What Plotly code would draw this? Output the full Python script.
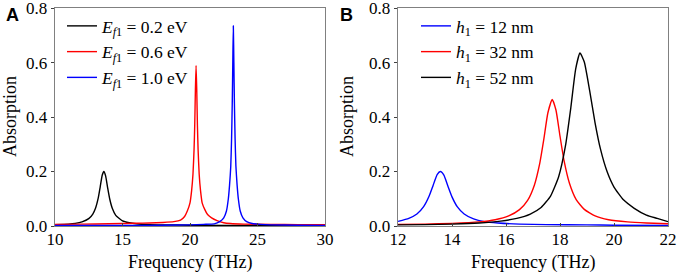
import plotly.graph_objects as go

# ---------------- data ----------------
# Panel A: absorption vs frequency for three Fermi levels
fa_black = [10, 11, 11.5, 12, 12.5, 12.8, 13.0, 13.2, 13.35, 13.5, 13.62, 13.75, 13.9, 14.05,
            14.25, 14.5, 15, 15.5, 16, 17, 18, 20, 25, 30]
a_black = [0.005, 0.007, 0.0095, 0.015, 0.027, 0.044, 0.065, 0.102, 0.144, 0.187, 0.2, 0.184,
           0.14, 0.1, 0.064, 0.039, 0.019, 0.012, 0.008, 0.005, 0.004, 0.003, 0.002, 0.002]

fa_red = [10, 12, 14, 16, 17, 18, 18.8, 19.3, 19.6, 19.8, 20.0, 20.12, 20.22, 20.3, 20.35, 20.4,
          20.45, 20.5, 20.55, 20.6, 20.68, 20.78, 20.9, 21.1, 21.3, 21.6, 22.0, 22.5, 23, 24, 26,
          28, 30]
a_red = [0.006, 0.007, 0.008, 0.01, 0.011, 0.013, 0.016, 0.022, 0.035, 0.055, 0.085, 0.13, 0.19,
         0.28, 0.37, 0.5, 0.59, 0.5, 0.37, 0.28, 0.19, 0.13, 0.085, 0.06, 0.042, 0.03, 0.02,
         0.012, 0.009, 0.007, 0.006, 0.005, 0.005]

fa_blue = [10, 15, 18, 20, 21, 21.8, 22.2, 22.5, 22.7, 22.84, 22.93, 23.02, 23.08, 23.13, 23.17,
           23.21, 23.25, 23.29, 23.34, 23.40, 23.49, 23.58, 23.72, 23.92, 24.2, 24.6, 25.2, 26,
           28, 30]
a_blue = [0.002, 0.002, 0.003, 0.004, 0.006, 0.008, 0.016, 0.03, 0.055, 0.1, 0.15, 0.22, 0.32,
          0.45, 0.6, 0.735, 0.6, 0.45, 0.32, 0.22, 0.15, 0.1, 0.055, 0.03, 0.016, 0.009, 0.006,
          0.004, 0.003, 0.002]

# Panel B: absorption vs frequency for three thicknesses h1
fb_blue = [12.0, 12.4, 12.7, 12.95, 13.15, 13.3, 13.45, 13.57, 13.7, 13.85, 14.0, 14.2, 14.45,
           14.8, 15.2, 15.7, 16.5, 17.5, 19, 20, 22]
b_blue = [0.017, 0.028, 0.044, 0.071, 0.109, 0.149, 0.189, 0.2, 0.187, 0.146, 0.107, 0.07, 0.044,
          0.026, 0.016, 0.011, 0.007, 0.005, 0.004, 0.003, 0.002]

fb_red = [12, 13, 14, 15, 15.6, 16.1, 16.5, 16.8, 17.05, 17.25, 17.4, 17.55, 17.71, 17.85, 18.0,
          18.15, 18.35, 18.6, 18.9, 19.3, 19.8, 20.5, 21.2, 22]
b_red = [0.006, 0.007, 0.0097, 0.015, 0.023, 0.037, 0.06, 0.094, 0.15, 0.23, 0.318, 0.415, 0.465,
         0.426, 0.33, 0.24, 0.157, 0.097, 0.061, 0.037, 0.023, 0.015, 0.011, 0.008]

fb_black = [12, 13, 14, 15, 15.8, 16.4, 16.9, 17.3, 17.65, 17.95, 18.2, 18.4, 18.58, 18.74, 18.9,
            19.1, 19.3, 19.5, 19.75, 20.0, 20.35, 20.75, 21.2, 21.6, 22]
b_black = [0.004, 0.005, 0.007, 0.011, 0.018, 0.028, 0.044, 0.068, 0.11, 0.181, 0.293, 0.434,
           0.576, 0.635, 0.602, 0.496, 0.378, 0.282, 0.198, 0.143, 0.096, 0.065, 0.04, 0.028,
           0.016]

names_a = ["<i>E</i><sub><i>f</i>1</sub> = 0.2 eV",
           "<i>E</i><sub><i>f</i>1</sub> = 0.6 eV",
           "<i>E</i><sub><i>f</i>1</sub> = 1.0 eV"]
names_b = ["<i>h</i><sub>1</sub> = 12 nm",
           "<i>h</i><sub>1</sub> = 32 nm",
           "<i>h</i><sub>1</sub> = 52 nm"]

xticks_a = [10, 15, 20, 25, 30]
xticks_b = [12, 14, 16, 18, 20, 22]
yticks = [0.0, 0.2, 0.4, 0.6, 0.8]
ytick_text = ["0.0", "0.2", "0.4", "0.6", "0.8"]

# ---------------- figure ----------------
SERIF = "Liberation Serif, Times New Roman, serif"
BLACK, RED, BLUE = "#000000", "#ff0000", "#0000ff"
LW = 1.4

fig = go.Figure()
for fx, fy, nm, col in [(fa_black, a_black, names_a[0], BLACK),
                        (fa_red, a_red, names_a[1], RED),
                        (fa_blue, a_blue, names_a[2], BLUE)]:
    fig.add_trace(go.Scatter(x=fx, y=fy, name=nm, mode="lines", hoverinfo="skip",
                             line=dict(color=col, width=LW, shape="spline", smoothing=0.5),
                             xaxis="x", yaxis="y", legend="legend"))
for fx, fy, nm, col in [(fb_blue, b_blue, names_b[0], BLUE),
                        (fb_red, b_red, names_b[1], RED),
                        (fb_black, b_black, names_b[2], BLACK)]:
    fig.add_trace(go.Scatter(x=fx, y=fy, name=nm, mode="lines", hoverinfo="skip",
                             line=dict(color=col, width=LW, shape="spline", smoothing=0.5),
                             xaxis="x2", yaxis="y2", legend="legend2"))

W, H = 678, 279


def axis_style(**kw):
    d = dict(showline=True, linecolor="#808080", linewidth=1.3, mirror=True,
             showgrid=False, zeroline=False, automargin=False,
             tickfont=dict(family=SERIF, size=17, color="black"),
             tickcolor="#404040", tickwidth=1, ticklen=3, ticklabeloverflow="allow")
    d.update(kw)
    return d


fig.update_layout(
    template="none",
    width=W, height=H,
    margin=dict(l=0, r=0, t=8, b=53, pad=0),
    paper_bgcolor="white", plot_bgcolor="white",
    font=dict(family=SERIF, size=17, color="black"),
    showlegend=True,
    hovermode=False,
    xaxis=axis_style(domain=[55 / W, 325 / W], range=[10, 30], tickvals=xticks_a,
                     ticks="inside", anchor="y", ticklabelstandoff=-3),
    yaxis=axis_style(domain=[0, 1], range=[0, 0.8005], tickvals=yticks, ticktext=ytick_text,
                     ticks="outside", anchor="x"),
    xaxis2=axis_style(domain=[398 / W, 668 / W], range=[12, 22], tickvals=xticks_b,
                      ticks="inside", anchor="y2", ticklabelstandoff=-3),
    yaxis2=axis_style(domain=[0, 1], range=[0, 0.8005], tickvals=yticks, ticktext=ytick_text,
                      ticks="outside", anchor="x2"),
    legend=dict(x=62 / W, y=1.0, xanchor="left", yanchor="top",
                bgcolor="rgba(0,0,0,0)", tracegroupgap=0, borderwidth=0,
                font=dict(family=SERIF, size=17.5, color="black")),
    legend2=dict(x=416 / W, y=1.0, xanchor="left", yanchor="top",
                 bgcolor="rgba(0,0,0,0)", tracegroupgap=0, borderwidth=0,
                 font=dict(family=SERIF, size=17.5, color="black")),
)

ann_font = dict(family=SERIF, size=18, color="black")
annotations = [
    dict(text="Absorption", x=10 / W, y=0.5, xref="paper", yref="paper", textangle=-90,
         showarrow=False, font=ann_font, xanchor="center", yanchor="middle"),
    dict(text="Absorption", x=347 / W, y=0.5, xref="paper", yref="paper", textangle=-90,
         showarrow=False, font=ann_font, xanchor="center", yanchor="middle"),
    dict(text="Frequency (THz)", x=190 / W, y=-0.168, xref="paper", yref="paper",
         showarrow=False, font=ann_font, xanchor="center", yanchor="middle"),
    dict(text="Frequency (THz)", x=533 / W, y=-0.168, xref="paper", yref="paper",
         showarrow=False, font=ann_font, xanchor="center", yanchor="middle"),
    dict(text="<b>A</b>", x=12 / W, y=0.968, xref="paper", yref="paper", showarrow=False,
         font=dict(family="Liberation Sans", size=18, color="black"),
         xanchor="center", yanchor="middle"),
    dict(text="<b>B</b>", x=346 / W, y=0.968, xref="paper", yref="paper", showarrow=False,
         font=dict(family="Liberation Sans", size=18, color="black"),
         xanchor="center", yanchor="middle"),
]
fig.update_layout(annotations=annotations)

# remove the browser's default 8px page margin so the figure sits at the window's origin
fig.write_html("out.html",
               config={"displayModeBar": False, "staticPlot": True},
               post_script="document.body.style.margin='0';document.body.style.overflow='hidden';")
